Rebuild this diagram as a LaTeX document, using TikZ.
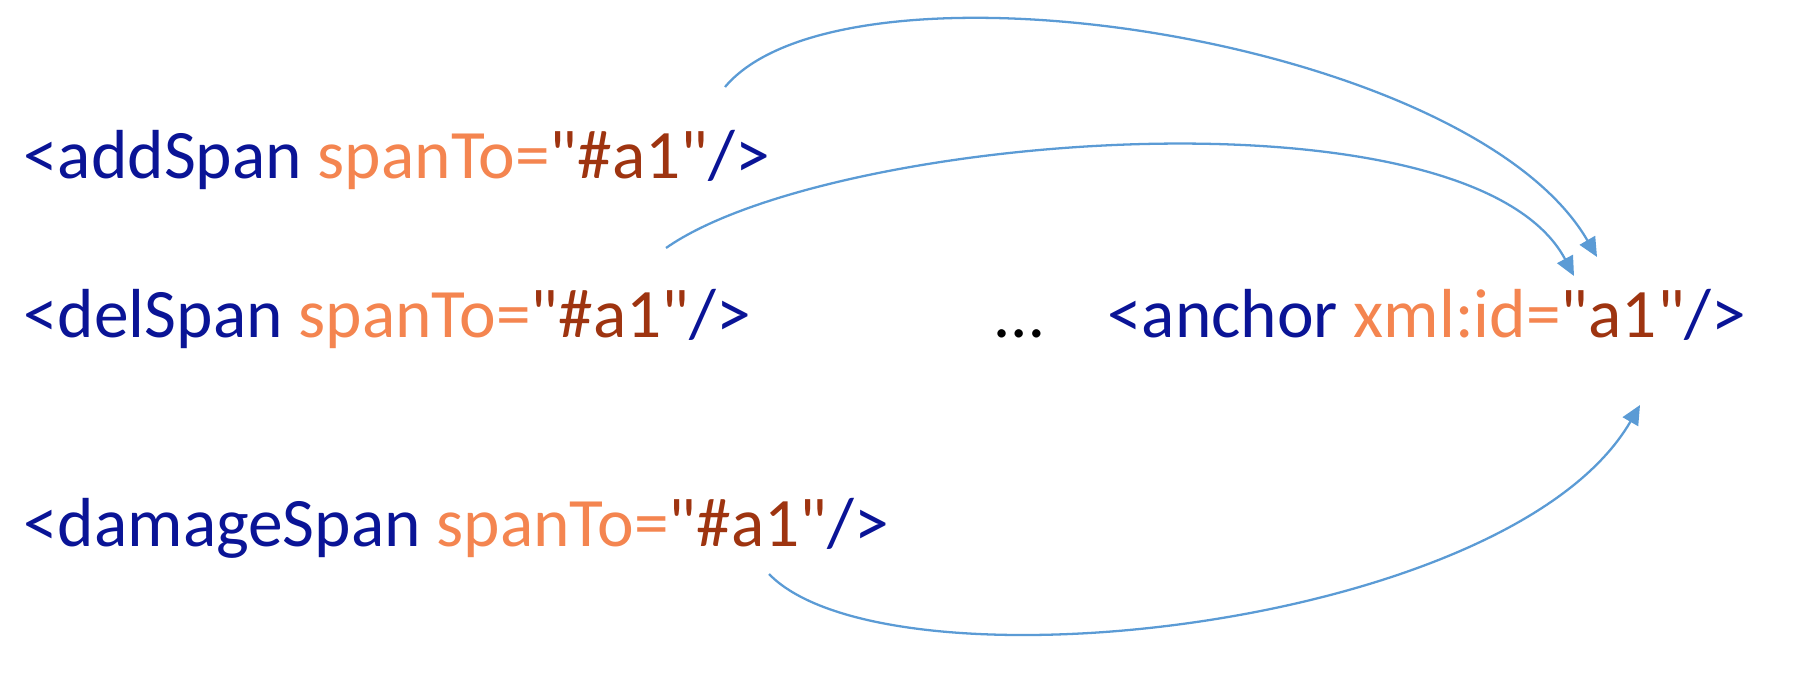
\documentclass[tikz,border=0pt]{standalone}
\usepackage{fontspec}
\setmainfont{Carlito}[Ligatures=TeXOff]
\usetikzlibrary{arrows.meta,positioning}
\definecolor{tagblue}{RGB}{10,20,150}
\definecolor{attrorange}{RGB}{244,133,80}
\definecolor{valbrown}{RGB}{158,52,16}
\definecolor{linkblue}{RGB}{91,155,213}
\newcommand{\tagtxt}[1]{\textcolor{tagblue}{#1}}
\newcommand{\attrtxt}[1]{\textcolor{attrorange}{#1}}
\newcommand{\valtxt}[1]{\textcolor{valbrown}{#1}}
\tikzset{
  code/.style={inner sep=0pt, anchor=base west, font=\fontsize{39.5}{47}\selectfont},
  link/.style={draw=linkblue, line width=1.3pt, -{Triangle[length=11pt,width=10pt]}, linkblue}
}
\begin{document}
\begin{tikzpicture}[x=0.02cm,y=-0.02cm]
   \useasboundingbox (0,0) rectangle (1814,678);
   \node[code] (s1) at (23,179) {\tagtxt{<addSpan} \attrtxt{spanTo=}\valtxt{"\#a1"}\tagtxt{/>}};
   \node[code] (s2) at (23,338) {\tagtxt{<delSpan} \attrtxt{spanTo=}\valtxt{"\#a1"}\tagtxt{/>}};
   \node[code] (s3) at (23,546) {\tagtxt{<damageSpan} \attrtxt{spanTo=}\valtxt{"\#a1"}\tagtxt{/>}};
   \node[code] (dots) at (995,338) {…};
   \node[code] (a1) at (1107,338) {\tagtxt{<anchor} \attrtxt{xml:id=}\valtxt{"a1"}\tagtxt{/>}};
   % ends of the links
   \coordinate (p1) at (725,87);
   \coordinate (p2) at (666,248);
   \coordinate (p3) at (769,574);
   \coordinate (t1) at (1597,257);
   \coordinate (t2) at (1574,276);
   \coordinate (t3) at (1640,405);
   \draw[link] (p1) .. controls (845,-56) and (1469,36) .. (t1);
   \draw[link] (p2) .. controls (830,133) and (1471,82) .. (t2);
   \draw[link] (p3) .. controls (887,696) and (1510,630) .. (t3);
\end{tikzpicture}
\end{document}
